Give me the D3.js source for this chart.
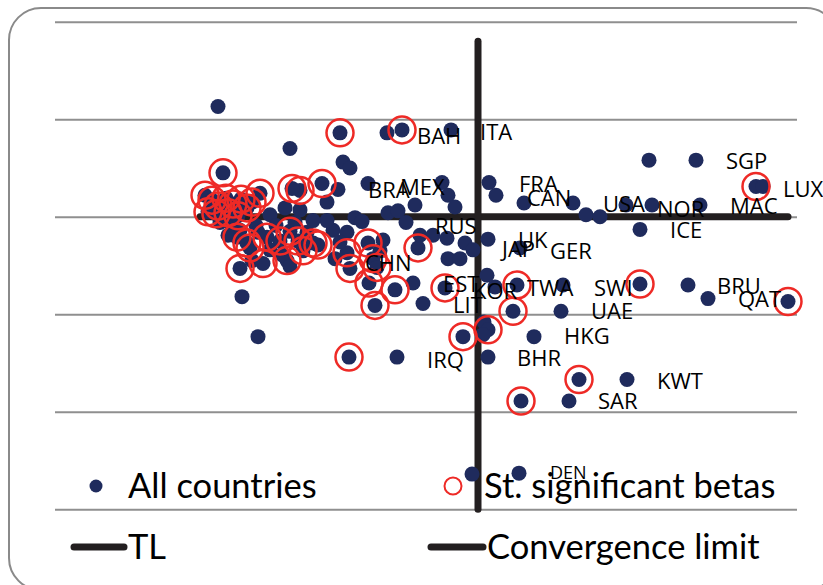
<!DOCTYPE html>
<html>
<head>
<meta charset="utf-8">
<script src="https://cdn.jsdelivr.net/npm/d3@7"></script>
<style>
  body { margin: 0; background: #fff; }
  .label { font-family: "Open Sans", sans-serif; font-size: 22px; fill: #000; }
  .legend text { font-family: Lato, sans-serif; font-size: 34.5px; fill: #000; }
</style>
</head>
<body>
<div id="chart"></div>
<script>
// All countries (x, y)
const allCountries = [
  [-2.60,1.13],[-1.88,0.70],[-1.38,0.86],[-0.91,0.86],[-0.76,0.89],[-0.27,0.89],[-1.35,0.56],[-1.28,0.50],
  [-2.55,0.45],[-1.40,0.28],[-1.10,0.34],[-0.36,0.35],[-0.30,0.22],[-0.23,0.10],[-0.63,0.12],[-0.90,0.04],
  [-0.80,0.06],[-0.72,-0.06],[-0.60,-0.32],[-0.30,-0.43],[-0.18,-0.43],[-0.31,-0.22],[-0.13,-0.27],[-0.05,-0.34],
  [0.10,-0.23],[0.42,-0.32],[0.11,0.35],[0.18,0.22],[0.46,0.14],[0.95,0.14],[1.08,0.02],[1.22,0.00],
  [1.48,0.12],[1.74,0.12],[2.22,0.12],[1.62,-0.13],[1.71,0.58],[2.18,0.58],[2.78,0.31],[2.85,0.31],
  [0.09,-0.60],[0.17,-0.72],[0.39,-0.70],[0.85,-0.70],[1.62,-0.69],[2.10,-0.70],[2.30,-0.84],[3.10,-0.87],
  [0.35,-0.97],[0.83,-0.97],[-0.15,-1.23],[0.06,-1.08],[0.10,-1.16],[0.05,-1.21],[0.56,-1.23],[0.10,-1.44],
  [1.01,-1.67],[1.49,-1.67],[0.43,-1.89],[0.91,-1.89],[-0.81,-1.44],[-1.29,-1.44],[-0.06,-2.64],[0.41,-2.63],
  [-0.33,-0.73],[-0.65,-0.68],[-0.55,-0.89],[-1.03,-0.91],[-0.83,-0.75],[-1.09,-0.68],[-1.05,-0.43],[-1.28,-0.53],
  [-1.10,-0.27],[-1.43,-0.43],[-2.20,-1.23],[-2.36,-0.82],[-2.38,-0.53],[-1.23,-0.01],[-1.16,-0.05],[-0.58,-0.19],
  [-0.45,-0.19],[-0.95,-0.24],[-0.98,-0.35],[-1.31,-0.37],[-1.01,-0.52],[-1.60,-0.29],[-1.45,-0.14],[-1.31,-0.16],
  [-1.71,-0.16],[-1.51,-0.04],[-1.65,-0.04],[-1.51,0.15],[-1.56,0.34],[-1.78,0.27],[-1.86,0.29],[-2.18,0.24],
  [-1.78,0.07],[-1.93,0.09],[-2.08,0.02],[-2.22,-0.09],[-2.46,-0.09],[-2.58,-0.06],[-2.73,0.22],[-2.66,0.17],
  [-2.60,0.11],[-2.52,0.19],[-2.45,0.13],[-2.37,0.18],[-2.31,0.09],[-2.70,0.05],[-2.62,0.03],[-2.50,0.04],
  [-2.40,0.01],[-2.26,0.15],[-2.41,-0.21],[-2.31,-0.27],[-2.11,-0.21],[-1.98,-0.25],[-1.88,-0.15],[-1.80,-0.25],
  [-1.65,-0.27],[-1.75,-0.35],[-2.28,-0.32],[-2.15,-0.48],[-1.91,-0.45],[-2.08,-0.34],[-1.96,-0.39],[-2.20,-0.16],
  [-1.88,-0.51],[-2.26,-0.45],[-1.38,-0.26],[-2.38,-0.14],[-2.02,-0.09],[-1.83,-0.06],[-2.50,-0.19]
];

// St. significant betas (x, y)
const sigBetas = [
  [-1.38,0.86],[-0.76,0.89],[-2.55,0.45],[-0.60,-0.32],[2.78,0.31],[0.39,-0.70],[1.62,-0.69],[3.10,-0.87],
  [0.35,-0.97],[-0.15,-1.23],[0.10,-1.16],[1.01,-1.67],[0.43,-1.89],[-1.29,-1.44],[-0.33,-0.73],[-1.03,-0.91],
  [-0.83,-0.75],[-1.09,-0.68],[-1.05,-0.43],[-1.28,-0.53],[-1.10,-0.27],[-2.38,-0.53],[-1.31,-0.37],[-1.01,-0.52],
  [-1.60,-0.29],[-1.56,0.34],[-1.78,0.27],[-1.86,0.29],[-2.18,0.24],[-2.73,0.22],[-2.66,0.17],[-2.60,0.11],
  [-2.52,0.19],[-2.45,0.13],[-2.37,0.18],[-2.31,0.09],[-2.70,0.05],[-2.62,0.03],[-2.50,0.04],[-2.40,0.01],
  [-2.26,0.15],[-2.41,-0.21],[-2.31,-0.27],[-2.11,-0.21],[-1.98,-0.25],[-1.88,-0.15],[-1.80,-0.25],[-1.65,-0.27],
  [-1.75,-0.35],[-2.28,-0.32],[-2.15,-0.48],[-1.91,-0.45]
];

// country labels: name, x, y (start / baseline of the text)
const labelNames = ['BAH','ITA','SGP','LUX','FRA','CAN','USA','NOR','MAC','ICE','UK','JAP','GER','RUS','BRA','MEX',
  'CHN','EST','LIT','KOR','TWA','SWI','BRU','QAT','UAE','HKG','BHR','IRQ','KWT','SAR','DEN'];
const labelX = [-0.61,0.02,2.48,3.05,0.41,0.49,1.25,1.79,2.52,1.92,0.40,0.24,0.72,-0.43,-1.10,-0.78,
  -1.13,-0.35,-0.25,-0.05,0.49,1.16,2.39,2.60,1.13,0.86,0.39,-0.51,1.79,1.20,0.72];
const labelY = [0.75,0.79,0.49,0.20,0.25,0.11,0.05,0.00,0.03,-0.22,-0.32,-0.41,-0.43,-0.18,0.19,0.22,
  -0.56,-0.77,-0.99,-0.84,-0.81,-0.81,-0.79,-0.93,-1.05,-1.31,-1.53,-1.55,-1.77,-1.97,-2.69];

// TL and convergence limit lines
const tlX = [-2.78, 3.10];
const tlY = [0, 0];
const convX = [0, 0];
const convY = [-3.0, 1.80];

const yTicks = [-3, -2, -1, 0, 1, 2];

const width = 823;
const height = 585;
const navy = '#1f2b5d';
const red = '#ee2a26';

const svg = d3.select('#chart').append('svg')
    .attr('width', width)
    .attr('height', height);

// rounded frame
svg.append('rect')
    .attr('x', 9).attr('y', 8)
    .attr('width', 829).attr('height', 582)
    .attr('rx', 32).attr('ry', 32)
    .attr('fill', 'none')
    .attr('stroke', '#8a8a8a')
    .attr('stroke-width', 2);

const x = d3.scaleLinear().domain([-4.23, 3.19]).range([55, 797]);
const y = d3.scaleLinear().domain([-3, 2]).range([509.2, 21.7]);

// horizontal gridlines
const grid = svg.append('g')
    .attr('transform', 'translate(55,0)')
    .call(d3.axisLeft(y).tickValues(yTicks).tickSize(-(797 - 55)).tickFormat(''));
grid.select('.domain').remove();
grid.selectAll('line').attr('stroke', '#8f8f8f').attr('stroke-width', 2);

const line = d3.line().x(d => x(d[0])).y(d => y(d[1]));

svg.append('path')
    .attr('d', line(tlX.map((v, i) => [v, tlY[i]])))
    .attr('stroke', '#231f20').attr('stroke-width', 7)
    .attr('stroke-linecap', 'round').attr('fill', 'none');

svg.append('path')
    .attr('d', line(convX.map((v, i) => [v, convY[i]])))
    .attr('stroke', '#231f20').attr('stroke-width', 7)
    .attr('stroke-linecap', 'round').attr('fill', 'none');

// dots
svg.append('g')
    .selectAll('circle')
    .data(allCountries)
    .enter().append('circle')
    .attr('cx', d => x(d[0]))
    .attr('cy', d => y(d[1]))
    .attr('r', 7.5)
    .attr('fill', navy);

// significant rings
svg.append('g')
    .selectAll('circle')
    .data(sigBetas)
    .enter().append('circle')
    .attr('cx', d => x(d[0]))
    .attr('cy', d => y(d[1]))
    .attr('r', 13.5)
    .attr('fill', 'none')
    .attr('stroke', red)
    .attr('stroke-width', 2.5);

// labels
svg.append('g')
    .selectAll('text')
    .data(labelNames)
    .enter().append('text')
    .attr('class', 'label')
    .attr('x', (d, i) => x(labelX[i]))
    .attr('y', (d, i) => y(labelY[i]))
    .style('font-size', d => d === 'DEN' ? '18px' : null)
    .text(d => d);

// legend
const legend = svg.append('g').attr('class', 'legend');

legend.append('circle')
    .attr('cx', 96).attr('cy', 486).attr('r', 6.5)
    .attr('fill', navy);
legend.append('text').attr('x', 128).attr('y', 498).text('All countries');

legend.append('circle')
    .attr('cx', 453).attr('cy', 486).attr('r', 8.5)
    .attr('fill', 'none').attr('stroke', red).attr('stroke-width', 2);
legend.append('text').attr('x', 484).attr('y', 498).text('St. significant betas');

legend.append('line')
    .attr('x1', 74).attr('x2', 124).attr('y1', 547).attr('y2', 547)
    .attr('stroke', '#231f20').attr('stroke-width', 7).attr('stroke-linecap', 'round');
legend.append('text').attr('x', 128).attr('y', 559).text('TL');

legend.append('line')
    .attr('x1', 431).attr('x2', 483).attr('y1', 547).attr('y2', 547)
    .attr('stroke', '#231f20').attr('stroke-width', 7).attr('stroke-linecap', 'round');
legend.append('text').attr('x', 487).attr('y', 559).text('Convergence limit');
</script>
</body>
</html>
